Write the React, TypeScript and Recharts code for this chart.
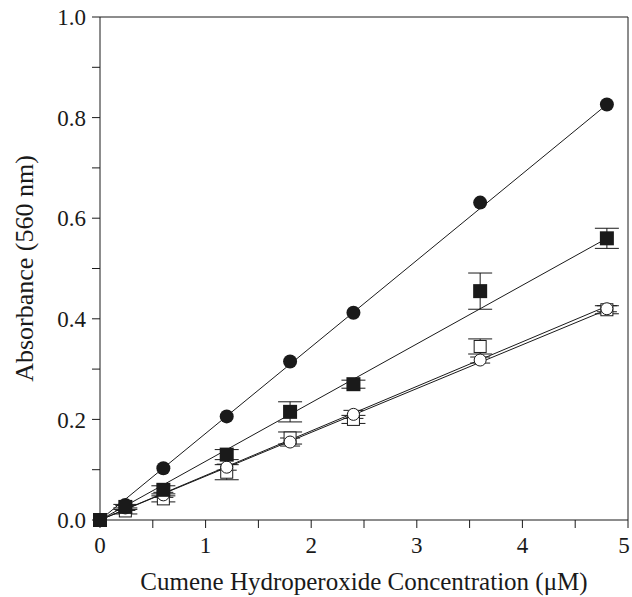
import React from 'react';
import { ComposedChart, XAxis, YAxis, Scatter, Line, ErrorBar, ReferenceLine } from 'recharts';

const concentrations = [0, 0.24, 0.6, 1.2, 1.8, 2.4, 3.6, 4.8];
const filledCircleValues = [0, 0.03, 0.103, 0.206, 0.315, 0.412, 0.631, 0.826];
const filledSquareValues = [0, 0.026, 0.06, 0.13, 0.215, 0.27, 0.455, 0.56];
const filledSquareErr = [0, 0.005, 0.008, 0.01, 0.02, 0.008, 0.036, 0.02];
const openCircleValues = [0, 0.024, 0.05, 0.105, 0.155, 0.21, 0.318, 0.42];
const openCircleErr = [0, 0.005, 0.005, 0.006, 0.008, 0.008, 0.006, 0.006];
const openSquareValues = [0, 0.018, 0.042, 0.095, 0.163, 0.2, 0.345, 0.418];
const openSquareErr = [0, 0.006, 0.006, 0.015, 0.012, 0.008, 0.015, 0.008];

const fitX = [0, 4.8];
const fitFilledCircle = [0, 0.826];
const fitFilledSquare = [0, 0.56];
const fitOpenCircle = [0, 0.425];
const fitOpenSquare = [0, 0.418];

const xTicks = [0, 0.5, 1, 1.5, 2, 2.5, 3, 3.5, 4, 4.5, 5];
const yTicks = [0, 0.1, 0.2, 0.3, 0.4, 0.5, 0.6, 0.7, 0.8, 0.9, 1.0];

const build = (vals: number[], errs?: number[]) =>
  concentrations.map((x, i) => ({ x, y: vals[i], err: errs ? errs[i] : 0 }));
const buildFit = (vals: number[]) => fitX.map((x, i) => ({ x, y: vals[i] }));

const FONT = 'Liberation Serif, DejaVu Serif, serif';
const INK = '#1a1a1a';

const FilledCircle = (p: any) => <circle cx={p.cx} cy={p.cy} r={7} fill={INK} />;
const FilledSquare = (p: any) => <rect x={p.cx - 7} y={p.cy - 7} width={14} height={14} fill={INK} />;
const OpenCircle = (p: any) => <circle cx={p.cx} cy={p.cy} r={6} fill="#fff" stroke={INK} strokeWidth={1} />;
const OpenSquare = (p: any) => <rect x={p.cx - 6} y={p.cy - 6} width={12} height={12} fill="#fff" stroke={INK} strokeWidth={1} />;

const XTick = (props: any) => {
  const { x, y, payload } = props;
  const v = payload.value as number;
  if (!Number.isInteger(v)) return null;
  const shift = v === 5 ? -4 : 0;
  return (
    <text x={x + shift} y={y + 19} textAnchor="middle" fill={INK} fontSize={23} style={{ fontFamily: FONT }}>
      {String(v)}
    </text>
  );
};

export default function App() {
  return (
    <div style={{ position: 'absolute', left: 0, top: 0, background: '#fff', fontFamily: FONT }}>
      <ComposedChart width={632} height={597} margin={{ top: 17, right: 4, bottom: 0, left: 0 }} style={{ fontFamily: FONT }}>
        <XAxis
          type="number"
          dataKey="x"
          domain={[0, 5]}
          ticks={xTicks}
          interval={0}
          height={77}
          tickSize={8}
          tickMargin={6}
          stroke={INK}
          tick={<XTick />}
          label={{ value: 'Cumene Hydroperoxide Concentration (μM)', position: 'insideBottom', offset: 7, fill: INK, fontSize: 25, style: { fontFamily: FONT } }}
        />
        <YAxis
          type="number"
          dataKey="y"
          domain={[0, 1]}
          ticks={yTicks}
          interval={0}
          width={100}
          tickSize={8}
          tickMargin={6}
          stroke={INK}
          tick={{ fill: INK, fontSize: 23, style: { fontFamily: FONT } }}
          tickFormatter={(v: number) => (Math.round(v * 10) % 2 === 0 ? v.toFixed(1) : '')}
          label={{ value: 'Absorbance (560 nm)', angle: -90, position: 'insideLeft', offset: 24, fill: INK, fontSize: 26, style: { textAnchor: 'middle', fontFamily: FONT } }}
        />
        <ReferenceLine y={1} stroke={INK} strokeWidth={1} />
        <ReferenceLine x={5} stroke={INK} strokeWidth={1} />

        <Line data={buildFit(fitOpenSquare)} dataKey="y" type="linear" stroke={INK} strokeWidth={1} dot={false} isAnimationActive={false} />
        <Line data={buildFit(fitOpenCircle)} dataKey="y" type="linear" stroke={INK} strokeWidth={1} dot={false} isAnimationActive={false} />
        <Line data={buildFit(fitFilledSquare)} dataKey="y" type="linear" stroke={INK} strokeWidth={1} dot={false} isAnimationActive={false} />
        <Line data={buildFit(fitFilledCircle)} dataKey="y" type="linear" stroke={INK} strokeWidth={1} dot={false} isAnimationActive={false} />

        <Scatter data={build(openSquareValues, openSquareErr)} shape={OpenSquare} isAnimationActive={false}>
          <ErrorBar dataKey="err" direction="y" width={12} stroke={INK} strokeWidth={1} />
        </Scatter>
        <Scatter data={build(openCircleValues, openCircleErr)} shape={OpenCircle} isAnimationActive={false}>
          <ErrorBar dataKey="err" direction="y" width={10} stroke={INK} strokeWidth={1} />
        </Scatter>
        <Scatter data={build(filledCircleValues)} shape={FilledCircle} isAnimationActive={false} />
        <Scatter data={build(filledSquareValues, filledSquareErr)} shape={FilledSquare} isAnimationActive={false}>
          <ErrorBar dataKey="err" direction="y" width={12} stroke={INK} strokeWidth={1} />
        </Scatter>
      </ComposedChart>
    </div>
  );
}
